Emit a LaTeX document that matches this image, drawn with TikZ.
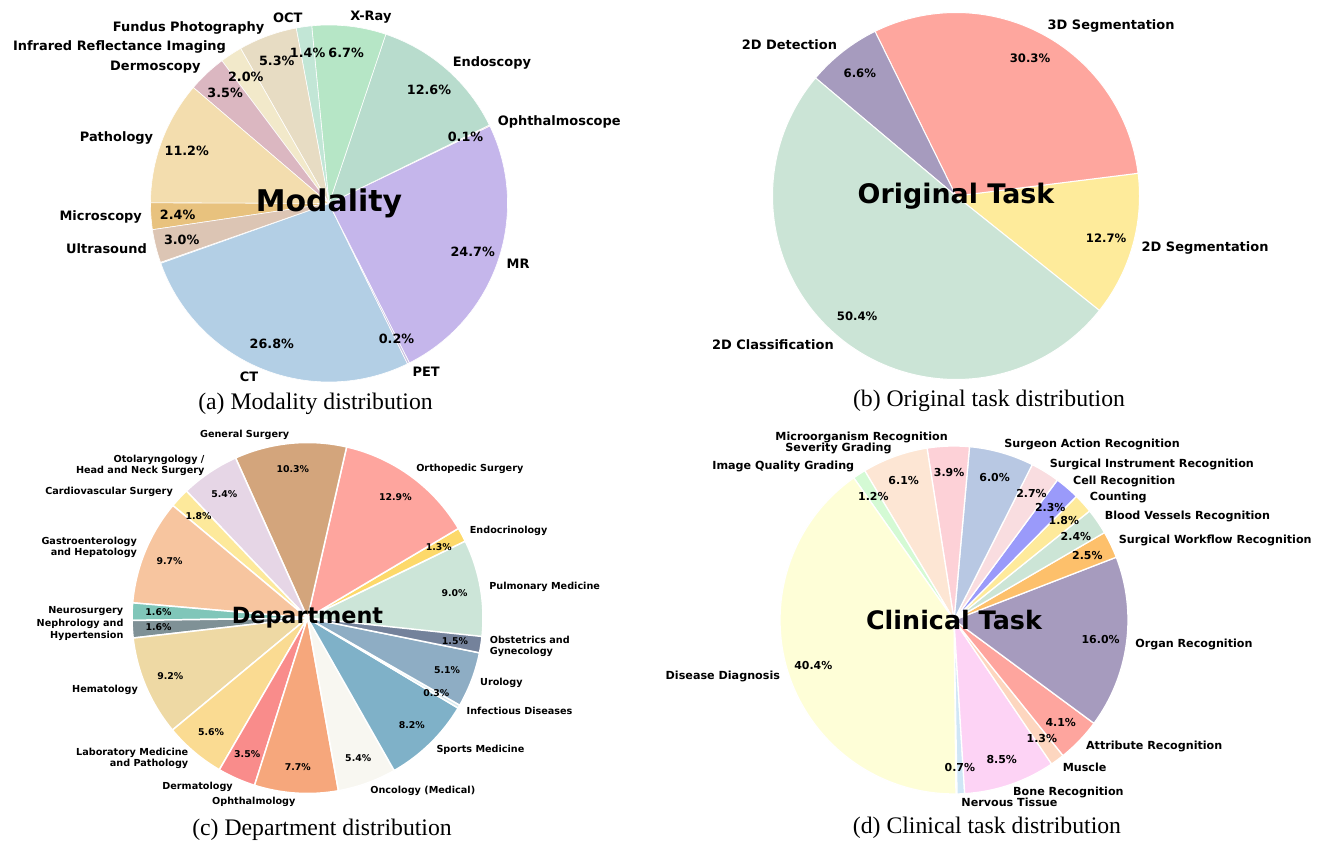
\documentclass[tikz,border=0pt]{standalone}
\usepackage{fontspec}
\setmainfont{Liberation Serif}
\newfontfamily\plotfont{DejaVu Sans}
\usepackage{tikz}
\usetikzlibrary{calc}

\tikzset{
  lbl/.style={inner sep=0pt, text=black},
  ttl/.style={inner sep=0pt, font=\plotfont\bfseries\fontsize{#1}{#1}\selectfont},
  captext/.style={inner sep=0pt, font=\fontsize{23.8}{26}\selectfont}
}

% #1 name, #2-#3 centre, #4 radius, #5 start angle, #6 label size, #7 percent size, #8 edge width, #9 value/colour/label
\newcommand\piechart[9]{%
  \coordinate (#1) at (#2,#3);
  \xdef\angA{#5}
  \foreach \val/\col/\lab in {#9} {
    \pgfmathsetmacro\angB{\angA+3.6*\val}
    \definecolor{wedgecol}{HTML}{\col}
    \filldraw[fill=wedgecol, draw=white, line width=#8, line join=round]
      (#1) -- ++(\angA:#4) arc[start angle=\angA, end angle=\angB, radius=#4] -- cycle;
    \xdef\angA{\angB}
  }
  \pgfmathsetmacro\lskip{1.15*#6}
  \xdef\angA{#5}
  \foreach \val/\col/\lab [count=\i] in {#9} {
    \pgfmathsetmacro\angB{\angA+3.6*\val}
    \pgfmathsetmacro\angM{(\angA+\angB)/2}
    \pgfmathsetmacro\cosM{cos(\angM)}
    \ifdim\cosM pt<0pt \def\anc{east}\def\al{right}\else\def\anc{west}\def\al{left}\fi
    \node[lbl, font=\plotfont\bfseries\fontsize{#6}{\lskip}\selectfont, anchor=\anc, align=\al]
      (#1-l\i) at ($(#1)+(\angM:1.05*#4)$) {\lab};
    \node[lbl, font=\plotfont\bfseries\fontsize{#7}{#7}\selectfont]
      (#1-p\i) at ($(#1)+(\angM:0.85*#4)$) {\val\%};
    \xdef\angA{\angB}
  }
}

\begin{document}
\begin{tikzpicture}[x=1bp,y=1bp]
\useasboundingbox (0,0) rectangle (1325,842);

% (a) modality
\piechart{a}{329}{638.5}{178.5}{199.6}{13}{12.8}{0.6}{
  26.8/B3CFE5/CT, 0.2/C9C3E0/PET, 24.7/C5B6EB/MR, 0.1/F2B6C6/Ophthalmoscope,
  12.6/B8DCCD/Endoscopy, 6.7/B6E6C6/X-Ray, 1.4/C2E6D6/OCT, 5.3/E7DCC3/Fundus Photography,
  2.0/F2E9CA/Infrared Reflectance Imaging, 3.5/DBB7C1/Dermoscopy, 11.2/F3DDAE/Pathology,
  2.4/E8C27E/Microscopy, 3.0/DCC5B4/Ultrasound}
\node[ttl=30] (a-title) at (a) {Modality};
\node[captext] (a-cap) at (315.5,438) {(a) Modality distribution};

% (b) original task
\piechart{b}{956}{646}{183.5}{-38.6}{13}{11.7}{1.0}{
  12.7/FEEB9B/2D Segmentation, 30.3/FEA69E/3D Segmentation,
  6.6/A69BBE/2D Detection, 50.4/CBE4D6/2D Classification}
\node[ttl=27] (b-title) at (b) {Original Task};
\node[captext] (b-cap) at (989,441) {(b) Original task distribution};

% (c) department
\piechart{c}{307.5}{224}{175.5}{-6.4}{9.7}{9.4}{1.5}{
  9.0/CCE5D8/Pulmonary Medicine, 1.3/FDD96A/Endocrinology, 12.9/FEA59E/Orthopedic Surgery,
  10.3/D3A57C/General Surgery, 5.4/E6D6E6/{Otolaryngology /\\Head and Neck Surgery},
  1.8/FDE99B/Cardiovascular Surgery, 9.7/F7C59F/{Gastroenterology\\and Hepatology},
  1.6/80C6B9/Neurosurgery, 1.6/7F9196/{Nephrology and\\Hypertension}, 9.2/EED9A4/Hematology,
  5.6/FADB92/{Laboratory Medicine\\and Pathology}, 3.5/F98C8B/Dermatology,
  7.7/F6A77C/Ophthalmology, 5.4/F8F7F1/Oncology (Medical), 8.2/7FB1C8/Sports Medicine,
  0.3/D8EBF1/Infectious Diseases, 5.1/8EADC4/Urology, 1.5/74829B/{Obstetrics and\\Gynecology}}
\node[ttl=22.4] (c-title) at (c) {Department};
\node[captext] (c-cap) at (322,12) {(c) Department distribution};

% (d) clinical task
\piechart{d}{954}{222}{174}{271.0}{11.2}{11}{1.3}{
  0.7/CFE6F6/Nervous Tissue, 8.5/FDD3F5/Bone Recognition, 1.3/FDD6BF/Muscle,
  4.1/FEA59E/Attribute Recognition, 16.0/A69BBE/Organ Recognition,
  2.5/FDC06B/Surgical Workflow Recognition, 2.4/CCE5D6/Blood Vessels Recognition,
  1.8/FEEA9B/Counting, 2.3/9A9AFA/Cell Recognition, 2.7/F9DDE0/Surgical Instrument Recognition,
  6.0/B8C8E3/Surgeon Action Recognition, 3.9/FDD1D7/Microorganism Recognition,
  6.1/FDE6D4/Severity Grading, 1.2/D4FAD4/Image Quality Grading, 40.4/FEFED7/Disease Diagnosis}
\node[ttl=25.5] (d-title) at (d) {Clinical Task};
\node[captext] (d-cap) at (987,14) {(d) Clinical task distribution};
\end{tikzpicture}
\end{document}
